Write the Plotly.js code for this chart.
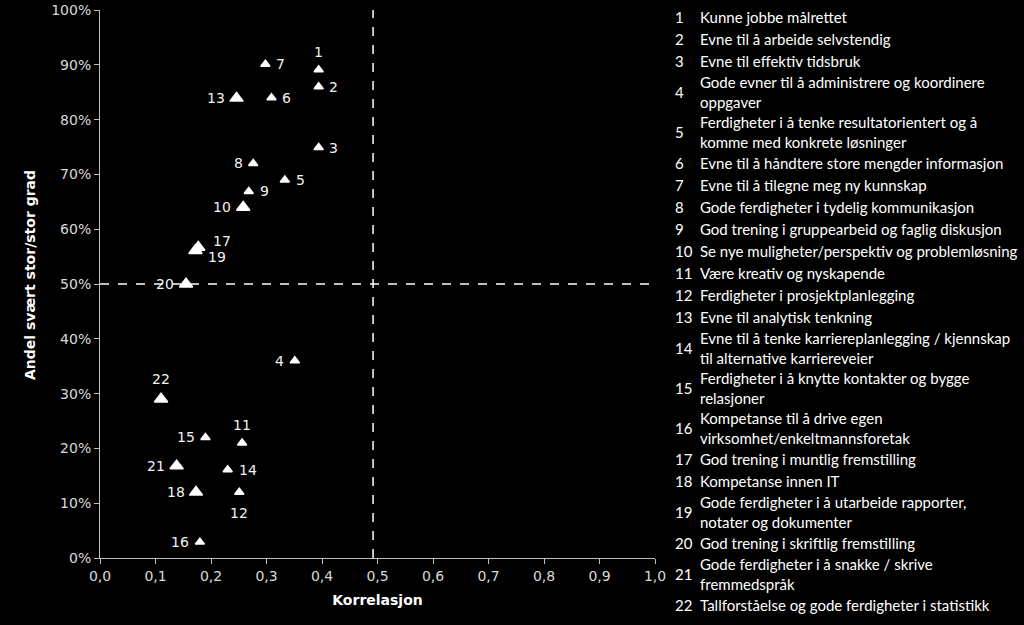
<!DOCTYPE html>
<html>
<head>
<meta charset="utf-8">
<script src="https://cdn.plot.ly/plotly-3.0.1.min.js"></script>
<style>
html,body{margin:0;padding:0;background:#000;}
#chart{width:1024px;height:625px;}
</style>
</head>
<body>
<div id="chart"></div>
<script>
// ---- data ----
const itemNumbers = ["1","2","3","4","5","6","7","8","9","10","11","12","13","14","15","16","17","18","19","20","21","22"];
const correlation = [0.394,0.394,0.394,0.351,0.333,0.309,0.298,0.276,0.268,0.258,0.256,0.251,0.246,0.230,0.190,0.180,0.177,0.173,0.172,0.155,0.138,0.110];
const shareLargeExtent = [0.891,0.860,0.749,0.360,0.690,0.840,0.901,0.720,0.669,0.640,0.210,0.120,0.839,0.161,0.220,0.029,0.567,0.120,0.561,0.500,0.168,0.290];
const itemLabels = [
  "Kunne jobbe målrettet",
  "Evne til å arbeide selvstendig",
  "Evne til effektiv tidsbruk",
  "Gode evner til å administrere og koordinere\noppgaver",
  "Ferdigheter i å tenke resultatorientert og å\nkomme med konkrete løsninger",
  "Evne til å håndtere store mengder informasjon",
  "Evne til å tilegne meg ny kunnskap",
  "Gode ferdigheter i tydelig kommunikasjon",
  "God trening i gruppearbeid og faglig diskusjon",
  "Se nye muligheter/perspektiv og problemløsning",
  "Være kreativ og nyskapende",
  "Ferdigheter i prosjektplanlegging",
  "Evne til analytisk tenkning",
  "Evne til å tenke karriereplanlegging / kjennskap\ntil alternative karriereveier",
  "Ferdigheter i å knytte kontakter og bygge\nrelasjoner",
  "Kompetanse til å drive egen\nvirksomhet/enkeltmannsforetak",
  "God trening i muntlig fremstilling",
  "Kompetanse innen IT",
  "Gode ferdigheter i å utarbeide rapporter,\nnotater og dokumenter",
  "God trening i skriftlig fremstilling",
  "Gode ferdigheter i å snakke / skrive\nfremmedspråk",
  "Tallforståelse og gode ferdigheter i statistikk"
];
const refCorrelation = [0.492];
const refShare = [0.5];
const xTickVals = [0,0.1,0.2,0.3,0.4,0.5,0.6,0.7,0.8,0.9,1.0];
const yTickVals = [0,0.1,0.2,0.3,0.4,0.5,0.6,0.7,0.8,0.9,1.0];
const xTitle = "Korrelasjon";
const yTitle = "Andel svært stor/stor grad";

// ---- styles (not data) ----
const bigItems = ["10","13","17","18","19","20","21","22"];
// label placement: side and pixel shift from the marker
const labelPlace = {
  "1":["top",18],"2":["right",10.5],"3":["right",10.5],"4":["left",-11],"5":["right",11],
  "6":["right",10.5],"7":["right",10.5],"8":["left",-10.5],"9":["right",11.5],"10":["left",-12.5],
  "11":["top",18],"12":["bottom",-20.5],"13":["left",-12],"14":["right",11.5],"15":["left",-10],
  "16":["left",-10.5],"17":["right",14.5,6.5],"18":["left",-11],"19":["right",13,-6.5],"20":["left",-12],
  "21":["left",-12],"22":["top",20]
};

const M = {l:100, r:369, t:10, b:67};
const W = 1024, H = 625;
const pw = W - M.l - M.r, ph = H - M.t - M.b;
const px2x = p => (p - M.l) / pw;
const py2y = p => (H - M.b - p) / ph;

const pointTrace = {
  type: 'scatter',
  mode: 'markers',
  x: correlation,
  y: shareLargeExtent,
  text: itemNumbers,
  marker: {
    symbol: 'triangle-up',
    color: '#ffffff',
    opacity: 1,
    size: itemNumbers.map(n => bigItems.includes(n) ? 11.5 : 8),
    line: {width: 1.5, color: '#ffffff'}
  },
  cliponaxis: false,
  hoverinfo: 'skip',
  showlegend: false
};

const shapes = [
  {type:'line', xref:'x', yref:'y', x0:0, x1:1, y0:refShare[0], y1:refShare[0],
   line:{color:'#ffffff', width:1.5, dash:'dash'}, layer:'below'},
  {type:'line', xref:'x', yref:'y', x0:refCorrelation[0], x1:refCorrelation[0], y0:0, y1:1,
   line:{color:'#ffffff', width:1.5, dash:'dash'}, layer:'below'}
];

const annotations = [];
// point number labels
const ptFont = {family: 'DejaVu Sans, Verdana, sans-serif', size: 14, color: '#f2f2f2'};
itemNumbers.forEach((n, i) => {
  const p = labelPlace[n];
  const a = {xref:'x', yref:'y', x: correlation[i], y: shareLargeExtent[i], text: n,
             showarrow:false, font: ptFont, borderpad: 0, borderwidth: 0};
  if (p[0] === 'right') { a.xanchor = 'left'; a.yanchor = 'middle'; a.xshift = p[1]; a.yshift = p[2] || 0; }
  else if (p[0] === 'left') { a.xanchor = 'right'; a.yanchor = 'middle'; a.xshift = p[1]; a.yshift = p[2] || 0; }
  else { a.xanchor = 'center'; a.yanchor = 'middle'; a.yshift = p[1]; }
  annotations.push(a);
});

// legend-like list on the right
const legFont = {family: 'Lato, Liberation Sans, sans-serif', size: 15, color: '#ffffff'};
let rowTop = 6;
const S = 22, D = 40;
itemLabels.forEach((lab, i) => {
  const lines = lab.split('\n');
  const h = lines.length > 1 ? D : S;
  const center = rowTop + h / 2;
  annotations.push({
    xref:'paper', yref:'paper', x: px2x(673), y: py2y(center),
    xanchor:'left', yanchor:'middle', text: itemNumbers[i], showarrow:false, font: legFont
  });
  lines.forEach((ln, j) => {
    const ly = lines.length > 1 ? center + (j === 0 ? -10 : 10) : center;
    annotations.push({
      xref:'paper', yref:'paper', x: px2x(698), y: py2y(ly),
      xanchor:'left', yanchor:'middle', text: ln, showarrow:false, font: legFont
    });
  });
  rowTop += h;
});

// y-axis title (placed as in the reference)
annotations.push({
  xref:'paper', yref:'paper', x: px2x(30), y: py2y(275), xanchor:'center', yanchor:'middle',
  text: yTitle, textangle: -90, showarrow:false,
  font: {family: 'DejaVu Sans, Verdana, sans-serif', size: 14, color: '#ffffff', weight: 'bold'}
});

const axisCommon = {
  showline: true, linecolor: '#bfbfbf', linewidth: 1,
  ticks: 'outside', ticklen: 5, tickcolor: '#bfbfbf', tickwidth: 1,
  showgrid: false, zeroline: false,
  tickfont: {family: 'DejaVu Sans, Verdana, sans-serif', size: 14, color: '#d9d9d9'},
  fixedrange: true
};

const layout = {
  width: W, height: H,
  margin: M,
  paper_bgcolor: '#000000',
  plot_bgcolor: '#000000',
  separators: ', ',
  showlegend: false,
  xaxis: Object.assign({}, axisCommon, {
    range: [0, 1], tickvals: xTickVals, tickformat: '.1f',
    title: {text: xTitle, font: {family: 'DejaVu Sans, Verdana, sans-serif', size: 14, color: '#ffffff', weight: 'bold'}, standoff: 12}
  }),
  yaxis: Object.assign({}, axisCommon, {
    range: [0, 1], tickvals: yTickVals, tickformat: '.0%'
  }),
  shapes: shapes,
  annotations: annotations
};

Plotly.newPlot('chart', [pointTrace], layout, {displayModeBar: false, staticPlot: true});
</script>
</body>
</html>
